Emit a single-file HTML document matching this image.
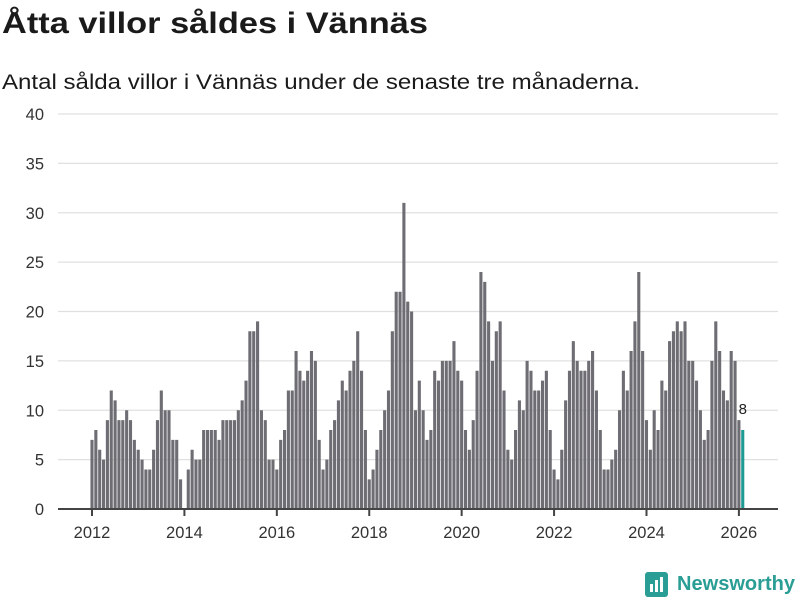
<!DOCTYPE html>
<html><head><meta charset="utf-8"><style>
body{margin:0;background:#fff;width:800px;height:600px;overflow:hidden;font-family:"Liberation Sans",sans-serif;}
</style></head><body>
<svg width="800" height="600" xmlns="http://www.w3.org/2000/svg">
<text x="2" y="33" font-size="30" font-weight="bold" fill="#1a1a1a" textLength="426" lengthAdjust="spacingAndGlyphs">Åtta villor såldes i Vännäs</text>
<text x="2" y="89" font-size="21" fill="#1a1a1a" textLength="638" lengthAdjust="spacingAndGlyphs">Antal sålda villor i Vännäs under de senaste tre månaderna.</text>
<g id="grid"></g><g id="bars"></g><g id="axis"></g>
<g>
<rect x="645" y="572" width="23" height="25" rx="3" fill="#2a9d95"/>
<rect x="650" y="584" width="3" height="8" fill="#fff"/><rect x="655" y="580" width="3" height="12" fill="#fff"/><rect x="660" y="577" width="3" height="15" fill="#fff"/>
<text x="677" y="590" font-size="20" font-weight="bold" fill="#2a9d95" textLength="118" lengthAdjust="spacingAndGlyphs">Newsworthy</text>
</g>
</svg>
<script>
const startYear = 2012;
const values = [7,8,6,5,9,12,11,9,9,10,9,7,
6,5,4,4,6,9,12,10,10,7,7,3,
0,4,6,5,5,8,8,8,8,7,9,9,
9,9,10,11,13,18,18,19,10,9,5,5,
4,7,8,12,12,16,14,13,14,16,15,7,
4,5,8,9,11,13,12,14,15,18,14,8,
3,4,6,8,10,12,18,22,22,31,21,20,
10,13,10,7,8,14,13,15,15,15,17,14,
13,8,6,9,14,24,23,19,15,18,19,12,
6,5,8,11,10,15,14,12,12,13,14,8,
4,3,6,11,14,17,15,14,14,15,16,12,
8,4,4,5,6,10,14,12,16,19,24,16,
9,6,10,8,13,12,17,18,19,18,19,15,
15,13,10,7,8,15,19,16,12,11,16,15,
9,8];
const yTicks = [0,5,10,15,20,25,30,35,40];
const xTickYears = [2012,2014,2016,2018,2020,2022,2024,2026];
const NS="http://www.w3.org/2000/svg";
const x0=92, step=3.8506, y0=509, yScale=9.875;
const xs = i => x0 + i*step;
const ys = v => y0 - v*yScale;
const grid=document.getElementById('grid'), bars=document.getElementById('bars'), axis=document.getElementById('axis');
function mk(tag,attrs,parent){const e=document.createElementNS(NS,tag);for(const k in attrs)e.setAttribute(k,attrs[k]);parent.appendChild(e);return e;}
yTicks.forEach(t=>{
  if(t>0){const l=mk('line',{x1:58,x2:778,y1:ys(t),y2:ys(t),stroke:'#e0e0e0','stroke-width':1.3},grid);
  
  }
  const tx=mk('text',{x:44,y:ys(t)+6,'text-anchor':'end','font-size':16.5,fill:'#333'},grid);
  tx.textContent=t;
  
  
});
values.forEach((v,i)=>{
  const last=i===values.length-1;
  const r=mk('rect',{x:xs(i)-1.55,y:ys(v),width:3.1,height:v*yScale,fill:last?'#1f9a92':'#6e6d73'},bars);
  
  
});
const li=values.length-1;
const lab=mk('text',{x:xs(li),y:ys(values[li])-16,'text-anchor':'middle','font-size':15,fill:'#222'},bars);
lab.textContent=values[li];


const ax=mk('line',{x1:58,x2:778,y1:y0,y2:y0,stroke:'#444','stroke-width':2},axis);


xTickYears.forEach(yr=>{
  const x=xs((yr-startYear)*12);
  const tk=mk('line',{x1:x,x2:x,y1:y0,y2:y0+7,stroke:'#444','stroke-width':2},axis);
  
  
  const t=mk('text',{x:x,y:538,'text-anchor':'middle','font-size':16.5,fill:'#333'},axis);
  t.textContent=yr;
  
  
});
</script>
</body></html>
